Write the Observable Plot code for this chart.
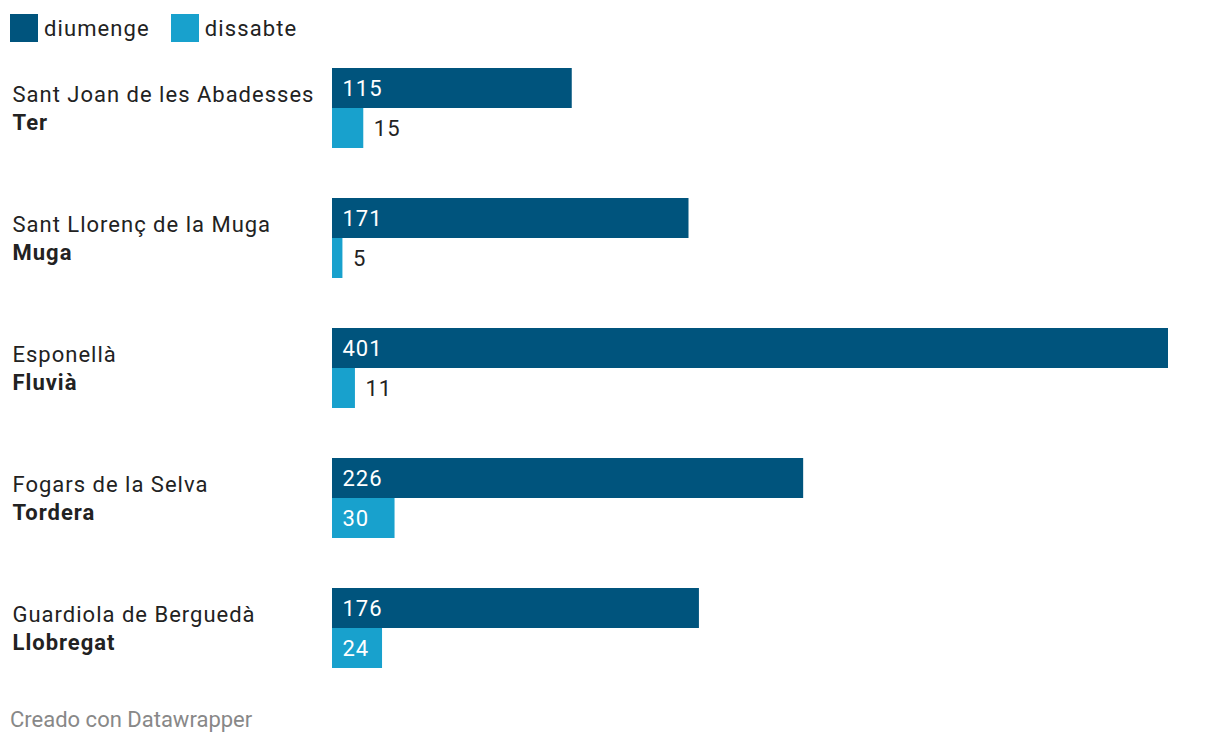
<!DOCTYPE html>
<html>
<head>
<meta charset="utf-8">
<script src="https://cdn.jsdelivr.net/npm/d3@7"></script>
<script src="https://cdn.jsdelivr.net/npm/@observablehq/plot@0.6"></script>
<style>
  body { margin: 0; background: #fff; font-family: Roboto, sans-serif; color: #222; }
  #legend { height: 28px; padding-top: 14px; padding-bottom: 14px; display: flex; align-items: center; padding-left: 10px; }
  .item { display: flex; align-items: center; margin-right: 21px; font-size: 22px; letter-spacing: 1.1px; height: 28px; }
  .sw { width: 28px; height: 28px; margin-right: 6px; }
  #footer { font-size: 22px; color: #888; padding-left: 10px; margin-top: 19px; }
  svg { display: block; }
</style>
</head>
<body>
<div id="legend"></div>
<div id="chart"></div>
<div id="footer">Creado con Datawrapper</div>
<script>
const cities = ["Sant Joan de les Abadesses", "Sant Llorenç de la Muga", "Esponellà", "Fogars de la Selva", "Guardiola de Berguedà"];
const rivers = ["Ter", "Muga", "Fluvià", "Tordera", "Llobregat"];
const series = ["diumenge", "dissabte"];
const diumenge = [115, 171, 401, 226, 176];
const dissabte = [15, 5, 11, 30, 24];
const colors = ["#00547d", "#18a1cd"];

const rows = [];
cities.forEach((c, i) => {
  rows.push({city: c, series: "diumenge", value: diumenge[i]});
  rows.push({city: c, series: "dissabte", value: dissabte[i]});
});
const labelRows = cities.map((c, i) => ({city: c, river: rivers[i]}));

const xMax = 401;
const plotW = 1220 - 332 - 52;
const fits = d => d.value * plotW / xMax > String(d.value).length * 13 + 18;

const legend = document.getElementById("legend");
series.forEach((s, i) => {
  const it = document.createElement("div");
  it.className = "item";
  it.innerHTML = `<div class="sw" style="background:${colors[i]}"></div><span>${s}</span>`;
  legend.appendChild(it);
});

const chart = Plot.plot({
  width: 1220,
  height: 632,
  marginLeft: 332,
  marginRight: 52,
  marginTop: 12,
  marginBottom: 20,
  style: {fontFamily: "Roboto, sans-serif", fontSize: "22px", background: "white", letterSpacing: "1px"},
  x: {domain: [0, xMax], axis: null},
  fy: {domain: cities, paddingInner: 50 / 130, paddingOuter: 0, axis: null},
  y: {domain: series, padding: 0, axis: null},
  color: {domain: series, range: colors},
  marks: [
    Plot.barX(rows, {x: "value", y: "series", fy: "city", fill: "series"}),
    Plot.text(rows.filter(fits), {x: 0, y: "series", fy: "city", text: d => String(d.value), textAnchor: "start", dx: 10, fill: "white", fontSize: 22}),
    Plot.text(rows.filter(d => !fits(d)), {x: "value", y: "series", fy: "city", text: d => String(d.value), textAnchor: "start", dx: 10, fill: "#222", fontSize: 22}),
    Plot.text(labelRows, {fy: "city", frameAnchor: "left", dx: -320, dy: -14, text: "city", textAnchor: "start", fill: "#222", fontSize: 22}),
    Plot.text(labelRows, {fy: "city", frameAnchor: "left", dx: -320, dy: 14, text: "river", textAnchor: "start", fill: "#222", fontSize: 22, fontWeight: "bold"})
  ]
});
document.getElementById("chart").appendChild(chart);
</script>
</body>
</html>
